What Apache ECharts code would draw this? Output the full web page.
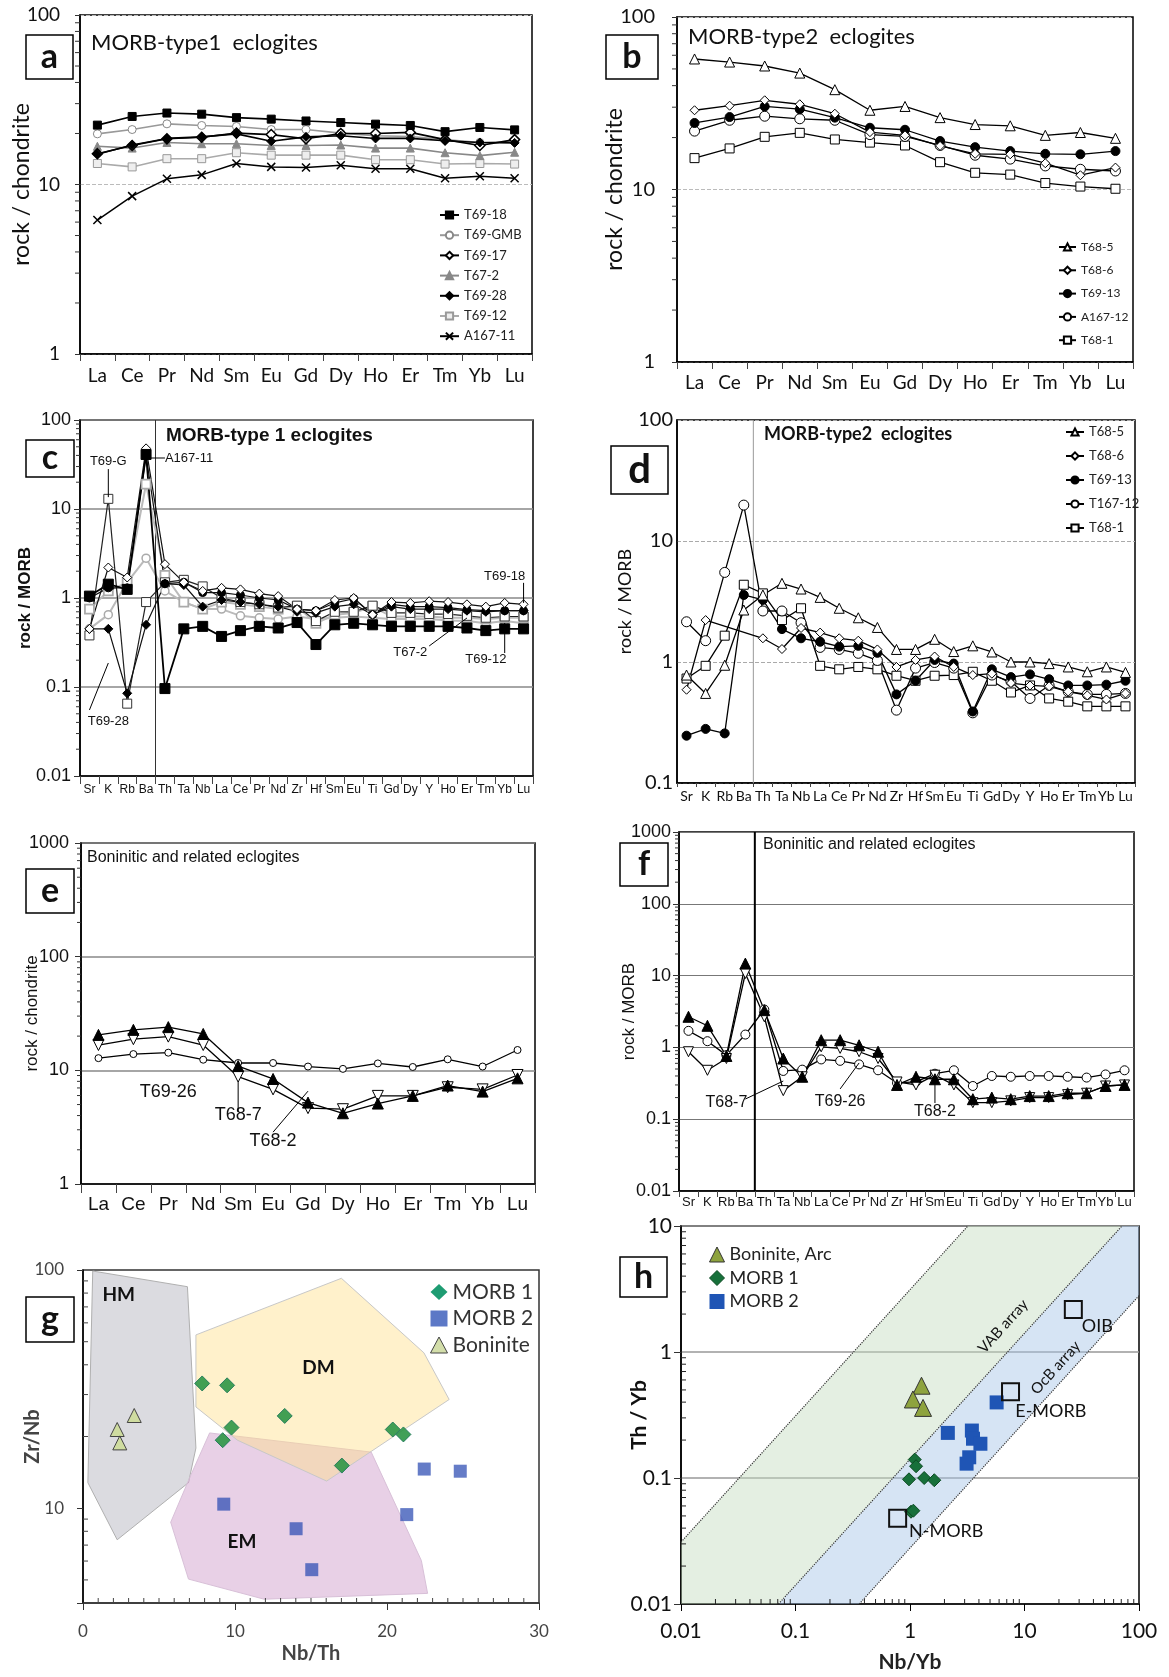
<!DOCTYPE html>
<html><head><meta charset="utf-8">
<script src="https://cdn.jsdelivr.net/npm/echarts@6/dist/echarts.min.js"></script>
<style>html,body{margin:0;padding:0;background:#fff}#c{width:1169px;height:1677px}</style>
</head><body><div id="c"></div>
<script>
// ---------- categories ----------
const REE = ['La','Ce','Pr','Nd','Sm','Eu','Gd','Dy','Ho','Er','Tm','Yb','Lu'];
const SPIDER = ['Sr','K','Rb','Ba','Th','Ta','Nb','La','Ce','Pr','Nd','Zr','Hf','Sm','Eu','Ti','Gd','Dy','Y','Ho','Er','Tm','Yb','Lu'];

// ---------- panel a (rock / chondrite) ----------
const a_T69_18  = [22.4,25.2,26.4,26.0,24.8,24.3,23.7,23.2,22.7,22.3,20.5,21.7,21.0];
const a_T69_GMB = [19.9,21.1,22.8,22.3,22.0,21.1,21.1,20.1,19.4,19.2,18.4,17.7,18.0];
const a_T69_17  = [15.2,17.0,18.6,19.0,20.1,19.7,18.6,20.0,20.0,20.3,18.4,17.0,18.4];
const a_T67_2   = [16.8,16.4,17.7,17.4,17.4,17.0,17.0,17.1,16.4,16.4,15.4,14.8,15.5];
const a_T69_28  = [15.1,17.1,18.7,19.1,19.9,18.0,19.1,19.4,18.7,18.7,18.1,17.7,17.6];
const a_T69_12  = [13.3,12.7,14.2,14.2,15.4,14.9,14.9,14.9,14.0,14.0,13.2,13.3,13.2];
const a_A167_11 = [6.17,8.54,10.8,11.4,13.3,12.7,12.6,13.0,12.4,12.4,10.9,11.2,10.9];

// ---------- panel b ----------
const b_T68_5   = [57.1,54.8,52.0,47.3,37.9,28.8,30.3,26.1,23.8,23.4,20.6,21.4,19.8];
const b_T68_6   = [28.8,30.6,32.9,31.2,27.5,21.5,20.6,17.9,16.1,16.0,14.2,12.1,13.4];
const b_T69_13  = [24.3,26.3,30.3,29.2,26.1,22.8,22.2,19.1,17.6,16.7,16.1,16.0,16.7];
const b_A167_12 = [21.8,25.2,26.6,25.7,25.2,20.8,20.3,18.0,15.8,15.0,13.7,13.1,12.8];
const b_T68_1   = [15.2,17.3,20.2,21.3,19.5,18.7,18.0,14.4,12.5,12.2,10.9,10.4,10.1];

// ---------- panel c (rock / MORB) ----------
const c_A167_11 = [1.05,1.43,1.25,41,0.096,0.45,0.48,0.37,0.43,0.48,0.46,0.53,0.30,0.50,0.52,0.50,0.48,0.48,0.48,0.48,0.46,0.43,0.45,0.45];
const c_T69_18  = [0.45,2.2,1.7,48,2.4,1.5,1.2,1.3,1.25,1.12,1.05,0.75,0.72,0.95,1.0,0.65,0.9,0.88,0.92,0.9,0.85,0.8,0.88,0.85];
const c_T69_28  = [0.45,0.45,0.085,0.5,1.45,1.4,0.8,0.95,0.9,0.85,0.8,0.7,0.68,0.8,0.85,0.65,0.8,0.75,0.75,0.75,0.72,0.7,0.72,0.72];
const c_T67_2   = [1.0,1.3,1.3,40,1.45,1.5,1.15,1.15,1.08,1.0,0.95,0.75,0.72,0.88,0.98,0.65,0.85,0.8,0.8,0.78,0.74,0.72,0.72,0.72];
const c_T69_GMB = [0.45,0.65,1.5,2.8,1.2,0.9,0.75,0.75,0.63,0.6,0.58,0.62,0.58,0.6,0.62,0.6,0.58,0.58,0.58,0.56,0.55,0.52,0.55,0.52];
const c_T69_12  = [0.75,1.2,1.5,19,1.8,0.9,0.75,0.9,0.85,0.8,0.75,0.8,0.52,0.65,0.68,0.8,0.62,0.62,0.62,0.6,0.6,0.58,0.6,0.6];
const c_T69_G   = [0.38,13,0.065,0.9,1.5,1.6,1.35,1.0,0.9,0.85,0.78,0.82,0.55,0.7,0.7,0.82,0.68,0.68,0.66,0.66,0.63,0.6,0.62,0.62];

// ---------- panel d ----------
const d_T68_5   = [0.78,0.55,0.94,2.69,3.58,4.47,4.01,3.42,2.78,2.32,1.93,1.27,1.27,1.54,1.22,1.36,1.21,1.0,1.0,0.97,0.91,0.83,0.91,0.82];
const d_T68_6   = [0.59,2.22,null,null,1.57,1.28,1.91,1.75,1.57,1.50,1.27,0.91,1.04,1.11,0.91,0.78,0.80,0.67,0.64,0.63,0.57,0.53,0.49,0.55];
const d_T69_13  = [0.246,0.28,0.257,3.58,3.26,1.87,1.57,1.47,1.34,1.36,1.19,0.54,0.70,1.04,0.97,0.39,0.87,0.75,0.79,0.72,0.64,0.64,0.65,0.70];
const d_T167_12 = [2.15,1.50,5.5,19.8,2.64,2.64,2.11,1.32,1.27,1.18,1.03,0.40,0.89,0.99,0.89,0.38,0.78,0.69,0.50,0.64,0.57,0.54,0.54,0.55];
const d_T68_1   = [0.73,0.93,1.65,4.35,3.69,2.22,2.78,0.93,0.87,0.91,0.87,0.77,0.70,0.77,0.78,0.83,0.70,0.56,0.64,0.50,0.47,0.43,0.43,0.43];

// ---------- panel e ----------
const e_T68_2  = [20.5,22.7,24.0,20.9,10.9,8.4,5.2,4.19,5.1,5.96,7.35,6.5,8.5];
const e_T68_7  = [16.7,18.8,19.8,16.7,8.8,6.8,4.65,4.55,5.96,5.96,7.1,6.8,9.1];
const e_T69_26 = [12.8,13.9,14.3,12.4,11.6,11.6,10.8,10.3,11.5,10.7,12.5,10.8,15.1];

// ---------- panel f ----------
const f_T68_2  = [2.67,2.0,0.76,14.7,3.3,0.70,0.39,1.26,1.26,1.07,0.87,0.30,0.39,0.36,0.36,0.19,0.20,0.19,0.21,0.21,0.23,0.23,0.29,0.30];
const f_T68_7  = [0.87,0.48,0.70,10.7,2.67,0.25,0.39,1.02,0.97,0.87,0.70,0.33,0.30,0.41,0.30,0.17,0.17,0.18,0.20,0.20,0.22,0.23,0.29,0.30];
const f_T69_26 = [1.70,1.22,0.78,1.51,3.37,0.47,0.49,0.68,0.65,0.58,0.48,0.32,0.33,0.43,0.48,0.29,0.40,0.39,0.40,0.40,0.39,0.38,0.42,0.48];

// ---------- panel g (Nb/Th vs Zr/Nb) ----------
const g_morb1 = [[7.84,33.4],[9.48,32.8],[13.27,24.4],[9.77,21.8],[9.19,19.3],[20.38,21.4],[21.08,20.4],[17.03,15.1]];
const g_morb2 = [[9.26,10.4],[14.02,8.2],[15.05,5.52],[22.45,14.6],[24.82,14.3],[21.30,9.4]];
const g_bon   = [[3.37,24.5],[2.25,21.4],[2.42,18.8]];
const g_HM = [[0.64,99.0],[6.87,85.1],[7.43,17.9],[6.94,12.8],[2.25,7.37],[0.32,12.8]];
const g_EM = [[8.33,20.7],[18.96,17.2],[22.26,6.03],[22.67,4.39],[11.92,4.15],[6.94,5.04],[5.77,8.73],[6.99,13.3]];
const g_DM = [[7.43,53.4],[17.00,92.3],[22.43,44.9],[24.09,28.6],[16.03,13.0],[10.16,19.3],[7.43,26.6]];
const g_fieldLabels = [['HM',2.35,78.5],['DM',15.49,38.9],['EM',10.46,7.24]];

// ---------- panel h (Nb/Yb vs Th/Yb) ----------
const h_bon   = [[1.26,0.54],[1.06,0.42],[1.30,0.36]];
const h_morb1 = [[1.10,0.14],[1.13,0.124],[0.98,0.0976],[1.33,0.10],[1.63,0.096],[1.02,0.054],[1.07,0.055]];
const h_morb2 = [[2.14,0.228],[3.47,0.238],[3.55,0.205],[4.12,0.187],[3.29,0.146],[3.12,0.130],[5.71,0.398]];
const h_ref   = [[0.78,0.048],[7.55,0.483],[26.7,2.17]];
const h_refNames = ['N-MORB','E-MORB','OIB'];
const h_vabUpper = [[0.01,0.031],[3.2,10]];
const h_ocbMid   = [[0.071,0.01],[71,10]];
const h_ocbLower = [[0.36,0.01],[100,2.8]];

// ---------- helpers ----------
const CAL = 'Lato, "Open Sans", sans-serif';
const ARI = '"Liberation Sans", Arial, sans-serif';
const NAR = '"Liberation Sans Narrow", "Liberation Sans", Arial, sans-serif';
const S = {sq:'rect', ci:'circle', di:'diamond', tr:'triangle', itr:'path://M0,0L10,0L5,10Z', x:'path://M0,0L10,10M10,0L0,10'};

function ln(name, gi, data, o) {
  return {type:'line', name, xAxisIndex:gi, yAxisIndex:gi, data, symbol:o.sym, symbolSize:o.size||8,
    showSymbol:true, connectNulls:true, animation:false, silent:true, z:o.z||3,
    lineStyle:{color:o.line||'#000', width:o.lw||1.3},
    itemStyle:{color:o.fill, borderColor:o.stroke||'#000', borderWidth:o.bw||1},
    emphasis:{disabled:true}};
}
function sc(name, gi, data, o) {
  return {type:'scatter', name, xAxisIndex:gi, yAxisIndex:gi, data, symbol:o.sym, symbolSize:o.size,
    animation:false, silent:true, z:o.z||4,
    itemStyle:{color:o.fill, borderColor:o.stroke||'transparent', borderWidth:o.bw||0, opacity:o.op||1},
    emphasis:{disabled:true}};
}
function logMinor(min, max) {
  const out = [];
  for (let e = Math.floor(Math.log10(min)); e < Math.log10(max); e++)
    for (let m = 2; m <= 9; m++) { const v = +(m*Math.pow(10,e)).toPrecision(3); if (v > min*1.0001 && v < max*0.9999) out.push(v); }
  return out;
}
function ticks(gi, axis, values, other, len, color) {
  return {type:'custom', xAxisIndex:gi, yAxisIndex:gi, silent:true, animation:false, clip:false, z:6,
    data: values.map(v => axis === 'y' ? [other, v] : [v, other]),
    renderItem: (params, api) => {
      const cs = params.coordSys;
      const p = api.coord([api.value(0), api.value(1)]);
      if (axis === 'y') return {type:'line', shape:{x1:cs.x, y1:p[1], x2:cs.x+len, y2:p[1]}, style:{stroke:color||'#333', lineWidth:1}};
      const yb = cs.y + cs.height;
      return {type:'line', shape:{x1:p[0], y1:yb, x2:p[0], y2:yb+len}, style:{stroke:color||'#333', lineWidth:1}};
    }};
}
// vertical separator between two categories (Ba | Th)
function vsep(gi, catA, catB, color, width) {
  return {type:'custom', xAxisIndex:gi, yAxisIndex:gi, silent:true, animation:false, clip:false, z:2,
    data:[[catA, 1]],
    renderItem: (params, api) => {
      const cs = params.coordSys;
      const x = (api.coord([catA, 1])[0] + api.coord([catB, 1])[0]) / 2;
      return {type:'line', shape:{x1:x, y1:cs.y, x2:x, y2:cs.y+cs.height}, style:{stroke:color, lineWidth:width}};
    }};
}
function polys(gi, list, fills, strokes, z) {
  return {type:'custom', xAxisIndex:gi, yAxisIndex:gi, silent:true, animation:false, clip:true, z:z||1,
    data: list.map(p => p[0]),
    renderItem: (params, api) => {
      const i = params.dataIndex;
      return {type:'polygon', shape:{points:list[i].map(pt => api.coord(pt))},
        style:{fill:fills[i], stroke:strokes[i], lineWidth:1}};
    }};
}
function annot(gi, items, font, z) {
  return {type:'custom', xAxisIndex:gi, yAxisIndex:gi, silent:true, animation:false, clip:false, z:z||8,
    data: items.map(it => it.at || it.seg[0]),
    renderItem: (params, api) => {
      const it = items[params.dataIndex];
      if (it.seg) {
        const p1 = api.coord(it.seg[0]), p2 = api.coord(it.seg[1]);
        return {type:'line', shape:{x1:p1[0], y1:p1[1], x2:p2[0], y2:p2[1]}, style:{stroke:'#000', lineWidth:1}};
      }
      const p = api.coord(it.at);
      return {type:'text', x:p[0], y:p[1], rotation:(it.rot||0)*Math.PI/180,
        style:{text:it.t, font:it.font||font, fill:it.color||'#111', align:it.align||'center', verticalAlign:'middle',
               textAlign:it.align||'center', textVerticalAlign:'middle'}};
    }};
}
const fmtLog = v => { const l = Math.log10(v); return Math.abs(l - Math.round(l)) < 1e-6 ? String(+v.toPrecision(6)) : ''; };

function catX(gi, cats, font, size, margin, tlen) {
  return {type:'category', gridIndex:gi, data:cats, boundaryGap:true,
    axisLine:{show:true, lineStyle:{color:'#000', width:1.5}},
    axisTick:{show:true, length:tlen, lineStyle:{color:'#444', width:1}},
    axisLabel:{interval:0, fontFamily:font, fontSize:size, color:'#111', margin},
    splitLine:{show:false}};
}
function logY(gi, min, max, o) {
  return {type:'log', logBase:10, gridIndex:gi, min, max,
    axisLine:{show:true, lineStyle:{color:'#000', width:1.5}},
    axisTick:{show:o.tick !== 0, length:o.tick||5, lineStyle:{color:'#333', width:1}},
    axisLabel:{fontFamily:o.font, fontSize:o.size, color:o.lc||'#111', margin:o.margin, formatter:fmtLog},
    splitLine:{show:!!o.split, lineStyle:o.split||{}},
    minorTick:{show:false}, minorSplitLine:{show:false},
    name:o.name, nameLocation:'middle', nameGap:o.gap, nameRotate:90, nameMoveOverlap:false,
    nameTextStyle:{fontFamily:o.nfont||o.font, fontSize:o.nsize, fontWeight:o.nbold?'bold':'normal', color:'#111'}};
}

// ---------- layout ----------
const GRIDS = [
  {left:80,  top:15,   width:452, height:339},
  {left:677, top:17,   width:456, height:345},
  {left:80,  top:420,  width:453, height:356},
  {left:677, top:420,  width:458, height:363},
  {left:81,  top:843,  width:454, height:341},
  {left:679, top:832,  width:455, height:359},
  {left:83,  top:1270, width:456, height:333},
  {left:681, top:1226, width:458, height:378}
].map(g => Object.assign({show:true, borderColor:'#000', borderWidth:1.5, backgroundColor:'transparent', containLabel:false, outerBoundsMode:'none'}, g));
GRIDS[6].borderColor = '#333';

const xAxis = [
  catX(0, REE, CAL, 19, 12, 7),
  catX(1, REE, CAL, 19, 11, 7),
  catX(2, SPIDER, NAR, 12, 8, 8),
  catX(3, SPIDER, CAL, 14, 6, 4),
  catX(4, REE, ARI, 19, 11, 9),
  catX(5, SPIDER, NAR, 13, 5, 6),
  {type:'value', gridIndex:6, min:0, max:30, interval:10,
    axisLine:{show:true, lineStyle:{color:'#333', width:1.5}}, axisTick:{show:true, length:7, lineStyle:{color:'#333'}},
    axisLabel:{fontFamily:CAL, fontSize:17, color:'#444', margin:20}, splitLine:{show:false},
    name:'Nb/Th', nameLocation:'middle', nameGap:41, nameMoveOverlap:false, nameTextStyle:{fontFamily:CAL, fontSize:20, fontWeight:'bold', color:'#444'}},
  {type:'log', logBase:10, gridIndex:7, min:0.01, max:100,
    axisLine:{show:true, lineStyle:{color:'#000', width:1.5}}, axisTick:{show:true, length:7, lineStyle:{color:'#000'}},
    axisLabel:{fontFamily:CAL, fontSize:21, color:'#111', margin:17, formatter:fmtLog}, splitLine:{show:false},
    name:'Nb/Yb', nameLocation:'middle', nameGap:48, nameMoveOverlap:false, nameTextStyle:{fontFamily:CAL, fontSize:21, fontWeight:'bold', color:'#222'}}
];
const yAxis = [
  logY(0, 1, 100, {font:CAL, size:19, margin:20, split:{color:'#bbb', type:'dashed', width:1}, name:'rock / chondrite', gap:47, nsize:23}),
  logY(1, 1, 100, {font:CAL, size:20, margin:22, split:{color:'#bbb', type:'dashed', width:1}, name:'rock / chondrite', gap:51, nsize:23}),
  logY(2, 0.01, 100, {font:ARI, size:18, margin:9, tick:6, split:{color:'#888', type:'solid', width:1.5}, name:'rock / MORB', gap:46, nsize:17, nbold:true}),
  logY(3, 0.1, 100, {font:CAL, size:20, margin:4, tick:0, split:{color:'#aaa', type:'dashed', width:1}, name:'rock / MORB', gap:43, nsize:18}),
  logY(4, 1, 1000, {font:ARI, size:18, margin:12, tick:6, split:{color:'#888', type:'solid', width:1.5}, name:'rock / chondrite', gap:40, nsize:17}),
  logY(5, 0.01, 1000, {font:ARI, size:18, margin:8, tick:6, split:{color:'#777', type:'solid', width:1.2}, name:'rock / MORB', gap:41, nsize:17}),
  logY(6, 4, 100, {font:CAL, size:17, lc:'#444', margin:19, tick:6, split:null, name:'Zr/Nb', gap:40, nsize:20, nbold:true}),
  logY(7, 0.01, 10, {font:CAL, size:21, margin:9, tick:7, split:{color:'#999', type:'solid', width:1.5}, name:'Th / Yb', gap:31, nsize:21, nbold:true})
];
yAxis[6].nameTextStyle.color = '#444';

const series = [];
// a
series.push(ln('T69-12', 0, a_T69_12, {sym:S.sq, size:8, fill:'#eee', stroke:'#999', line:'#aaa', lw:1.6}));
series.push(ln('T67-2', 0, a_T67_2, {sym:S.tr, size:8, fill:'#888', stroke:'#888', line:'#888', lw:1.6}));
series.push(ln('T69-GMB', 0, a_T69_GMB, {sym:S.ci, size:8, fill:'#fff', stroke:'#888', line:'#999', lw:1.6}));
series.push(ln('A167-11', 0, a_A167_11, {sym:S.x, size:8, fill:'transparent', stroke:'#000', bw:1.5, line:'#000', lw:1.5}));
series.push(ln('T69-17', 0, a_T69_17, {sym:S.di, size:10, fill:'#fff', stroke:'#000', bw:1.5, line:'#000', lw:1.6}));
series.push(ln('T69-28', 0, a_T69_28, {sym:S.di, size:9, fill:'#000', stroke:'#000', line:'#000', lw:1.6}));
series.push(ln('T69-18', 0, a_T69_18, {sym:S.sq, size:8, fill:'#000', stroke:'#000', line:'#000', lw:1.6}));
// b
series.push(ln('T68-1', 1, b_T68_1, {sym:S.sq, size:9, fill:'#fff', stroke:'#000'}));
series.push(ln('A167-12', 1, b_A167_12, {sym:S.ci, size:10, fill:'#fff', stroke:'#000'}));
series.push(ln('T69-13', 1, b_T69_13, {sym:S.ci, size:9, fill:'#000', stroke:'#000'}));
series.push(ln('T68-6', 1, b_T68_6, {sym:S.di, size:9, fill:'#fff', stroke:'#000'}));
series.push(ln('T68-5', 1, b_T68_5, {sym:S.tr, size:10, fill:'#fff', stroke:'#000'}));
// c
series.push(vsep(2, 3, 4, '#333', 1));
series.push(ln('c T69-GMB', 2, c_T69_GMB, {sym:S.ci, size:8, fill:'#fff', stroke:'#aaa', bw:1.5, line:'#bbb', lw:2}));
series.push(ln('c T69-12', 2, c_T69_12, {sym:S.sq, size:9, fill:'#fff', stroke:'#aaa', bw:1.8, line:'#bbb', lw:2}));
series.push(ln('c T69-G', 2, c_T69_G, {sym:S.sq, size:9, fill:'#fff', stroke:'#333', line:'#222', lw:1.2}));
series.push(ln('c T67-2', 2, c_T67_2, {sym:S.ci, size:8, fill:'#000', stroke:'#000', line:'#111', lw:1.2}));
series.push(ln('c T69-28', 2, c_T69_28, {sym:S.di, size:9, fill:'#000', stroke:'#000', line:'#111', lw:1.2}));
series.push(ln('c T69-18', 2, c_T69_18, {sym:S.di, size:9, fill:'#fff', stroke:'#000', line:'#111', lw:1.2}));
series.push(ln('c A167-11', 2, c_A167_11, {sym:S.sq, size:10, fill:'#000', stroke:'#000', line:'#000', lw:1.8}));
// d
series.push(vsep(3, 3, 4, '#999', 1));
series.push(ln('T68-1', 3, d_T68_1, {sym:S.sq, size:9, fill:'#fff', stroke:'#000'}));
series.push(ln('T167-12', 3, d_T167_12, {sym:S.ci, size:10, fill:'#fff', stroke:'#000'}));
series.push(ln('T69-13', 3, d_T69_13, {sym:S.ci, size:9, fill:'#000', stroke:'#000'}));
series.push(ln('T68-6', 3, d_T68_6, {sym:S.di, size:9, fill:'#fff', stroke:'#000'}));
series.push(ln('T68-5', 3, d_T68_5, {sym:S.tr, size:10, fill:'#fff', stroke:'#000'}));
// e
series.push(ln('e T69-26', 4, e_T69_26, {sym:S.ci, size:7, fill:'#fff', stroke:'#000'}));
series.push(ln('e T68-7', 4, e_T68_7, {sym:S.itr, size:11, fill:'#fff', stroke:'#000'}));
series.push(ln('e T68-2', 4, e_T68_2, {sym:S.tr, size:11, fill:'#000', stroke:'#000'}));
// f
series.push(vsep(5, 3, 4, '#000', 2));
series.push(ln('f T69-26', 5, f_T69_26, {sym:S.ci, size:9, fill:'#fff', stroke:'#000'}));
series.push(ln('f T68-7', 5, f_T68_7, {sym:S.itr, size:10, fill:'#fff', stroke:'#000'}));
series.push(ln('f T68-2', 5, f_T68_2, {sym:S.tr, size:11, fill:'#000', stroke:'#000'}));
// g
series.push(polys(6, [g_HM, g_EM, g_DM],
  ['rgba(190,190,198,0.55)', 'rgba(205,150,200,0.45)', 'rgba(255,225,140,0.45)'],
  ['#b0b0b0', '#d8c0d8', '#c8c8c8'], 1));
series.push(annot(6, g_fieldLabels.map(l => ({t:l[0], at:[l[1], l[2]]})), 'bold 19px ' + CAL, 3));
series.push(sc('Boninite', 6, g_bon, {sym:S.tr, size:14, fill:'#cfdca0', stroke:'#444', bw:1}));
series.push(sc('MORB 1', 6, g_morb1, {sym:S.di, size:15, fill:'rgba(45,150,70,0.9)', stroke:'rgba(30,120,90,0.9)', bw:1}));
series.push(sc('MORB 2', 6, g_morb2, {sym:S.sq, size:13, fill:'rgba(50,80,180,0.75)'}));
// h
series.push(polys(7, [
    [[0.01,0.01], h_vabUpper[0], h_vabUpper[1], h_ocbMid[1], h_ocbMid[0]],
    [h_ocbMid[0], h_ocbMid[1], [100,10], h_ocbLower[1], h_ocbLower[0]]
  ], ['rgba(195,219,191,0.45)', 'rgba(164,195,231,0.45)'], ['none','none'], 1));
[h_vabUpper, h_ocbMid, h_ocbLower].forEach((d, i) => series.push({type:'line', name:'arr'+i, xAxisIndex:7, yAxisIndex:7,
  data:d, symbol:'none', silent:true, animation:false, z:2, lineStyle:{color:'#333', width:1.2, type:'dotted'}}));
series.push(annot(7, [
  {t:'VAB array', at:[6.5,1.6], rot:48},
  {t:'OcB array', at:[18.7,0.75], rot:48}
], '15px ' + CAL, 3));
series.push(sc('Boninite, Arc', 7, h_bon, {sym:S.tr, size:17, fill:'#8ea33e', stroke:'#333', bw:1}));
series.push(sc('MORB 1', 7, h_morb1, {sym:S.di, size:13, fill:'#17703a', stroke:'#0c4a22', bw:1}));
series.push(sc('MORB 2', 7, h_morb2, {sym:S.sq, size:14, fill:'#1f55b5'}));
series.push(sc('ref', 7, h_ref, {sym:S.sq, size:17, fill:'transparent', stroke:'#111', bw:2, z:5}));
series.push(annot(7, [
  {t:h_refNames[0], at:[0.98,0.038], align:'left'},
  {t:h_refNames[1], at:[8.3,0.342], align:'left'},
  {t:h_refNames[2], at:[31.7,1.60], align:'left'}
], '18px ' + CAL, 6));

// annotations c, e, f
series.push(annot(2, [
  {t:'T69-G', at:[1.09,34.6]}, {seg:[[1.25,28.1],[1.04,13.6]]},
  {t:'A167-11', at:[4.0,37.4], align:'left'}, {seg:[[3.2,37.4],[3.95,37.4]]},
  {t:'T69-18', at:[22.28,1.77]}, {seg:[[22.55,1.48],[23.02,0.88]]},
  {t:'T67-2', at:[17.3,0.247]}, {seg:[[18.2,0.289],[19.79,0.596]]},
  {t:'T69-12', at:[20.8,0.206]}, {seg:[[21.54,0.241],[21.54,0.524]]},
  {t:'T69-28', at:[0.82,0.0415]}, {seg:[[0.40,0.0552],[1.35,0.186]]}
], '13px ' + ARI));
series.push(annot(4, [
  {t:'T69-26', at:[1.68,6.4]},
  {t:'T68-7', at:[3.80,4.04]}, {seg:[[4.11,4.29],[4.43,7.87]]},
  {t:'T68-2', at:[4.92,2.38]}, {seg:[[5.20,2.86],[5.55,6.56]]}
], '18px ' + ARI));
series.push(annot(5, [
  {t:'T68-7', at:[1.60,0.168]}, {seg:[[2.59,0.191],[4.79,0.340]]},
  {t:'T69-26', at:[8.25,0.174]}, {seg:[[8.30,0.264],[8.51,0.607]]},
  {t:'T68-2', at:[12.92,0.126]}, {seg:[[12.92,0.168],[12.97,0.319]]}
], '16px ' + ARI));

// minor ticks
series.push(ticks(0, 'y', logMinor(1,100), 0, -5));
series.push(ticks(1, 'y', logMinor(1,100), 0, -5));
series.push(ticks(2, 'y', logMinor(0.01,100), 0, -4));
series.push(ticks(4, 'y', logMinor(1,1000), 0, -4));
series.push(ticks(5, 'y', logMinor(0.01,1000), 0, -4));
series.push(ticks(6, 'y', logMinor(4,100), 1, 5, '#444'));
series.push(ticks(6, 'x', Array.from({length:29}, (_, i) => i + 1).filter(v => v % 10), 10, -5, '#444'));
series.push(ticks(7, 'y', logMinor(0.01,10), 1, 5, '#222'));
series.push(ticks(7, 'x', logMinor(0.01,100), 1, -5, '#222'));

// legends
const legA = {orient:'vertical', left:434, top:203, itemWidth:19, itemHeight:9, itemGap:6.2, selectedMode:false,
  textStyle:{fontFamily:CAL, fontSize:13, color:'#222', lineHeight:14},
  data:['T69-18','T69-GMB','T69-17','T67-2','T69-28','T69-12','A167-11']};
const legB = {orient:'vertical', left:1053, top:235, itemWidth:17, itemHeight:9, itemGap:9.3, selectedMode:false,
  textStyle:{fontFamily:CAL, fontSize:12, color:'#222', lineHeight:14},
  data:['T68-5','T68-6','T69-13','A167-12','T68-1']};
const legD = {orient:'vertical', left:1060, top:419, itemWidth:18, itemHeight:9, itemGap:8, selectedMode:false,
  textStyle:{fontFamily:CAL, fontSize:13, color:'#222', lineHeight:16},
  data:['T68-5','T68-6','T69-13','T167-12','T68-1']};
const legG = {orient:'vertical', left:425, top:1276, itemWidth:17, itemHeight:16, itemGap:4.5, selectedMode:false,
  textStyle:{fontFamily:CAL, fontSize:21, color:'#333', lineHeight:22},
  data:[{name:'MORB 1', icon:'diamond', itemStyle:{color:'#1e9c72', borderWidth:0}},
        {name:'MORB 2', icon:'rect', itemStyle:{color:'#5c78c6', borderWidth:0}},
        {name:'Boninite', icon:'triangle', itemStyle:{color:'#d3deaa', borderColor:'#444', borderWidth:1}}]};
const legH = {orient:'vertical', left:704, top:1240, itemWidth:15, itemHeight:15, itemGap:4.5, selectedMode:false,
  textStyle:{fontFamily:CAL, fontSize:18, color:'#222', lineHeight:19},
  data:[{name:'Boninite, Arc', icon:'triangle', itemStyle:{color:'#8ea33e', borderColor:'#333', borderWidth:1}},
        {name:'MORB 1', icon:'diamond', itemStyle:{color:'#17703a', borderColor:'#0c4a22', borderWidth:1}},
        {name:'MORB 2', icon:'rect', itemStyle:{color:'#1f55b5', borderWidth:0}}]};

// panel letters and titles
const boxes = [['a',26,35,47,44],['b',606,35,52,44],['c',26,440,48,37],['d',611,446,57,48],
               ['e',26,869,48,44],['f',620,843,48,43],['g',26,1297,48,45],['h',620,1257,47,40]];
const graphic = [];
boxes.forEach(b => {
  graphic.push({type:'rect', shape:{x:b[1], y:b[2], width:b[3], height:b[4]}, style:{fill:'#fff', stroke:'#000', lineWidth:1.5}, z:50});
  graphic.push({type:'text', x:b[1]+b[3]/2, y:b[2]+b[4]/2, z:51,
    style:{text:b[0], font:'bold ' + (b[0]==='d' ? 40 : 34) + 'px ' + CAL, fill:'#111', align:'center', verticalAlign:'middle', textAlign:'center', textVerticalAlign:'middle'}});
});
const titles = [
  ['MORB-type1  eclogites', 91, 43, '22px ' + CAL],
  ['MORB-type2  eclogites', 688, 37, '22px ' + CAL],
  ['MORB-type 1 eclogites', 166, 436, 'bold 19px ' + ARI],
  ['MORB-type2  eclogites', 764, 434, 'bold 18px ' + CAL],
  ['Boninitic and related eclogites', 87, 858, '16px ' + ARI],
  ['Boninitic and related eclogites', 763, 845, '16px ' + ARI]
];
titles.forEach(t => graphic.push({type:'text', x:t[1], y:t[2], z:40,
  style:{text:t[0], font:t[3], fill:'#111', align:'left', verticalAlign:'middle', textAlign:'left', textVerticalAlign:'middle'}}));

const chart = echarts.init(document.getElementById('c'), null, {renderer:'canvas', width:1169, height:1677});
chart.setOption({
  animation:false, backgroundColor:'#fff',
  grid:GRIDS, xAxis, yAxis, series,
  legend:[legA, legB, legD, legG, legH],
  graphic
});
</script></body></html>
